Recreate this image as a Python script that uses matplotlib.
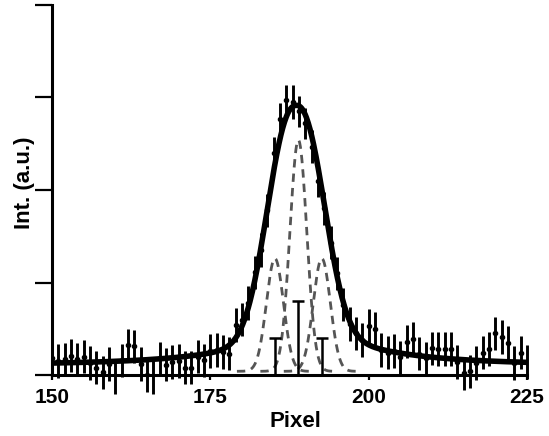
import numpy as np
import matplotlib
matplotlib.use("Agg")
import matplotlib.pyplot as plt

# ---- data ----
pixel = list(range(150, 226))
intensity = [
    0.18, 0.15, 0.17, 0.21, 0.17, 0.20, 0.13, 0.08, 0.03, 0.12,   # 150-159
    -0.02, 0.16, 0.32, 0.31, 0.12, 0.00, -0.02, 0.18, 0.11, 0.14,  # 160-169
    0.15, 0.08, 0.08, 0.20, 0.16, 0.26, 0.27, 0.25, 0.23, 0.54,   # 170-179
    0.60, 0.78, 1.11, 1.35, 1.78, 2.40, 2.77, 2.97, 2.95, 2.85,   # 180-189
    2.72, 2.47, 2.10, 1.80, 1.43, 1.10, 0.76, 0.55, 0.45, 0.38,   # 190-199
    0.53, 0.50, 0.27, 0.24, 0.26, 0.19, 0.36, 0.39, 0.23, 0.18,   # 200-209
    0.29, 0.28, 0.28, 0.28, 0.14, 0.02, 0.04, 0.13, 0.24, 0.28,   # 210-219
    0.45, 0.41, 0.35, 0.13, 0.24, 0.14]                           # 220-225
intensity_err = [0.18] * 35 + [0.17, 0.17, 0.17, 0.18, 0.17, 0.17] + [0.18] * 35

# fitted model (background + peak) parameters
bg_const, bg_amp, bg_center, bg_width = 0.10, 0.35, 190.0, 12.0
peak_center, peak_amp, peak_width, peak_shape = 188.5, 2.47, 5.8, 2.3

# components (dashed) and stick positions
comp_center = [185.2, 188.9, 192.6]
comp_height = [1.22, 2.50, 1.22]
comp_sigma = [1.35, 1.33, 1.35]
comp_offset = 0.04
stick_height = [0.40, 0.80, 0.40]

xticks = [150, 175, 200, 225]
yticks = [0, 1, 2, 3, 4]

# ---- figure ----
plt.rcParams['font.family'] = ['Liberation Sans', 'DejaVu Sans']
plt.rcParams['font.weight'] = 'bold'

fig = plt.figure(figsize=(5.49, 4.36), dpi=100)
ax = fig.add_axes([52/549, 1-375/436, 475/549, 370/436])

xf = np.linspace(150, 225, 800)
bg = bg_const + bg_amp / (1 + ((xf - bg_center) / bg_width) ** 2)
fit = bg + peak_amp * np.exp(-np.abs((xf - peak_center) / peak_width) ** peak_shape)

for c, h, s in zip(comp_center, comp_height, comp_sigma):
    xc = np.linspace(c - 6, c + 6, 200)
    ax.plot(xc, comp_offset + h * np.exp(-(xc - c) ** 2 / (2 * s ** 2)),
            color='#555555', lw=2, ls=(0, (3.0, 2.2)), zorder=2)

ax.vlines(comp_center, 0, stick_height, color='black', lw=1.8, zorder=3)
ax.plot(comp_center, stick_height, ls='none', marker='_', ms=9, mew=1.8,
        color='black', zorder=3)

ax.plot(xf, fit, color='black', lw=4, zorder=4, solid_capstyle='butt')
eb = ax.errorbar(pixel, intensity, yerr=intensity_err, fmt='o', color='black',
                 ms=3, elinewidth=2.1, capsize=0, zorder=5)
for artist in eb.lines[2]:
    artist.set_clip_on(False)

ax.set_xlim(150, 225)
ax.set_ylim(0, 4)
ax.set_xticks(xticks)
ax.set_yticks(yticks)
ax.set_yticklabels([])
ax.spines['top'].set_visible(False)
ax.spines['right'].set_visible(False)
for sp in ('left', 'bottom'):
    ax.spines[sp].set_linewidth(2.2)
ax.tick_params(axis='y', direction='out', length=12, width=1.6)
ax.tick_params(axis='x', direction='out', length=3.5, width=1.6, pad=6,
               labelsize=15)
for t in ax.get_xticklabels():
    t.set_fontweight('bold')

ax.set_xlabel('Pixel', fontsize=16, fontweight='bold')
ax.xaxis.set_label_coords(0.512, -0.125)
ax.xaxis.label.set_va('center')
ax.set_ylabel('Int. (a.u.)', fontsize=16, fontweight='bold')
ax.yaxis.set_label_coords(-0.058, 0.52)
ax.yaxis.label.set_va('center')

fig.savefig('out.png', dpi=100)
